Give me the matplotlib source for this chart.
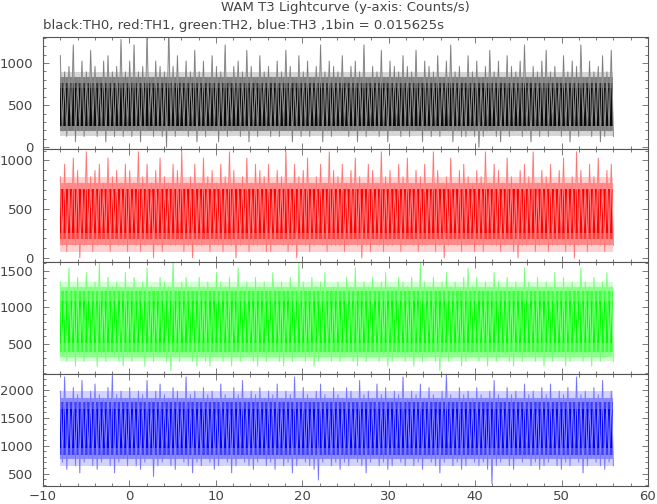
import numpy as np
import matplotlib.pyplot as plt
from matplotlib.ticker import MultipleLocator

bin_size = 0.015625   # s, so one count per bin = 64 counts/s
t_start, t_stop = -8.0, 56.0

# Counts per bin: local high / low in each 0.5 s slice
th0_hi = [17, 14, 15, 19, 13, 16, 14, 18, 15, 13, 16, 17, 14, 15, 20, 14,
          16, 19, 14, 15, 21, 13, 16, 15, 14, 22, 15, 17, 13, 16, 14, 18,
          14, 16, 13, 17, 15, 14, 19, 13, 15, 16, 14, 18, 15, 13, 17, 14,
          15, 13, 16, 14, 18, 15, 13, 17, 14, 16, 13, 15, 19, 14, 16, 15,
          14, 17, 13, 15, 16, 14, 19, 13, 15, 14, 18, 13, 16, 15, 14, 17,
          15, 14, 18, 13, 16, 15, 14, 17, 13, 16, 19, 14, 15, 13, 17, 14,
          16, 13, 15, 18, 14, 16, 13, 17, 15, 14, 16, 19, 13, 15, 14, 16,
          18, 14, 15, 13, 17, 14, 16, 15, 19, 13, 16, 14, 15, 17, 14, 18]
th0_lo = [3, 2, 4, 1, 3, 2, 3, 4, 2, 3, 1, 3, 2, 4, 2, 3,
          2, 3, 1, 3, 4, 2, 3, 2, 0, 3, 2, 4, 3, 2, 3, 1,
          3, 2, 4, 3, 1, 3, 2, 3, 4, 2, 3, 1, 3, 2, 4, 3,
          2, 3, 2, 4, 3, 1, 3, 2, 3, 2, 4, 3, 1, 3, 2, 3,
          3, 4, 2, 3, 1, 3, 2, 4, 3, 2, 3, 1, 3, 4, 2, 3,
          2, 3, 4, 1, 3, 2, 3, 2, 4, 3, 1, 3, 2, 2, 3, 2,
          0, 2, 3, 4, 2, 1, 3, 2, 3, 4, 2, 3, 1, 3, 2, 3,
          2, 4, 3, 2, 3, 1, 3, 2, 4, 3, 2, 3, 1, 2, 3, 2]

th1_hi = [13, 15, 12, 16, 14, 12, 17, 13, 14, 15, 12, 16, 13, 14, 12, 15,
          14, 12, 17, 13, 15, 12, 14, 16, 13, 12, 15, 14, 17, 12, 13, 15,
          12, 16, 13, 14, 12, 15, 13, 17, 14, 12, 13, 16, 12, 15, 14, 13,
          15, 12, 14, 13, 17, 12, 15, 13, 14, 16, 12, 13, 15, 12, 17, 14,
          13, 15, 12, 14, 16, 13, 12, 15, 14, 12, 17, 13, 14, 12, 15, 13,
          16, 12, 14, 13, 15, 12, 17, 14, 12, 13, 16, 12, 14, 15, 13, 12,
          14, 13, 17, 12, 15, 14, 12, 16, 13, 12, 14, 15, 13, 17, 12, 14,
          13, 15, 12, 14, 16, 12, 13, 17, 14, 12, 15, 13, 16, 12, 14, 15]
th1_lo = [2, 1, 3, 2, 0, 2, 3, 1, 2, 3, 2, 1, 3, 2, 2, 1,
          3, 2, 1, 2, 3, 0, 2, 1, 3, 2, 2, 3, 1, 2, 0, 2,
          2, 3, 1, 2, 2, 1, 3, 2, 0, 2, 3, 1, 2, 2, 3, 1,
          1, 2, 3, 2, 1, 2, 0, 3, 2, 1, 2, 3, 2, 1, 2, 2,
          2, 1, 2, 3, 2, 0, 2, 1, 3, 2, 1, 2, 2, 3, 1, 2,
          3, 2, 1, 2, 2, 3, 1, 2, 0, 2, 3, 2, 1, 2, 3, 1,
          2, 1, 3, 2, 2, 1, 2, 3, 1, 0, 2, 2, 3, 1, 2, 3,
          1, 2, 2, 3, 1, 2, 0, 2, 3, 1, 2, 3, 2, 1, 2, 2]

th2_hi = [21, 19, 24, 20, 22, 19, 23, 20, 21, 25, 19, 22, 20, 21, 19, 23,
          20, 22, 19, 21, 24, 20, 19, 22, 21, 20, 26, 19, 21, 22, 20, 19,
          22, 20, 21, 19, 23, 21, 20, 22, 19, 24, 20, 21, 19, 22, 20, 21,
          19, 23, 20, 21, 19, 22, 20, 25, 21, 19, 22, 20, 21, 23, 19, 20,
          21, 19, 22, 20, 24, 19, 21, 20, 22, 19, 21, 23, 20, 19, 22, 21,
          20, 22, 19, 25, 21, 20, 22, 19, 21, 23, 20, 21, 19, 22, 24, 20,
          22, 19, 21, 20, 23, 21, 19, 22, 20, 21, 19, 24, 21, 20, 22, 19,
          21, 20, 23, 19, 22, 20, 21, 19, 24, 21, 20, 22, 19, 21, 23, 20]
th2_lo = [5, 4, 6, 3, 5, 4, 6, 5, 3, 5, 4, 6, 5, 4, 3, 5,
          4, 6, 5, 3, 5, 4, 5, 6, 4, 2, 5, 4, 6, 5, 4, 3,
          5, 4, 3, 5, 6, 4, 5, 3, 5, 4, 6, 5, 4, 3, 5, 4,
          6, 5, 4, 3, 5, 4, 6, 5, 4, 5, 3, 4, 6, 5, 4, 5,
          4, 5, 6, 4, 3, 5, 4, 6, 5, 4, 5, 3, 4, 6, 5, 4,
          5, 3, 5, 4, 6, 5, 4, 2, 5, 4, 6, 5, 3, 4, 5, 6,
          4, 5, 3, 5, 4, 6, 5, 4, 3, 5, 4, 6, 5, 4, 5, 3,
          5, 4, 6, 5, 3, 4, 5, 6, 4, 5, 3, 5, 4, 6, 5, 4]

th3_hi = [31, 35, 29, 32, 30, 34, 29, 31, 33, 30, 29, 32, 36, 30, 31, 29,
          32, 29, 31, 30, 34, 29, 31, 33, 30, 29, 32, 31, 29, 35, 30, 31,
          29, 32, 30, 31, 29, 33, 30, 29, 32, 30, 34, 29, 31, 30, 32, 29,
          31, 30, 33, 29, 31, 30, 35, 29, 32, 30, 29, 31, 33, 30, 29, 32,
          30, 29, 32, 31, 29, 34, 30, 31, 29, 33, 30, 32, 29, 31, 30, 35,
          29, 31, 30, 33, 29, 32, 30, 29, 31, 36, 30, 29, 32, 30, 31, 29,
          32, 30, 29, 31, 34, 30, 29, 32, 30, 31, 29, 33, 30, 31, 29, 32,
          30, 33, 29, 31, 30, 32, 29, 35, 30, 31, 29, 32, 30, 34, 29, 31]
th3_lo = [11, 9, 12, 10, 8, 11, 12, 10, 9, 11, 13, 10, 8, 11, 12, 10,
          12, 10, 9, 11, 12, 7, 10, 11, 13, 10, 9, 12, 11, 10, 8, 11,
          10, 12, 11, 9, 10, 12, 11, 8, 10, 12, 11, 10, 9, 11, 12, 10,
          11, 9, 12, 10, 11, 8, 10, 12, 11, 10, 9, 6, 11, 12, 10, 11,
          9, 11, 10, 12, 11, 10, 8, 11, 12, 10, 11, 9, 10, 12, 11, 10,
          12, 10, 11, 9, 12, 11, 10, 8, 11, 12, 10, 11, 9, 10, 12, 11,
          10, 11, 9, 5, 10, 11, 12, 10, 9, 12, 11, 12, 10, 11, 9, 10,
          11, 12, 10, 9, 11, 10, 12, 11, 8, 10, 12, 11, 10, 9, 11, 10]

# where most bins pile up (counts per bin): faint, outer, middle, core
th0_bands = [(2, 14), (3, 13), (4, 12), (4, 11)]
th1_bands = [(1, 13), (2, 12), (3, 11), (4, 11)]
th2_bands = [(4, 21), (5, 20), (6, 19), (8, 17)]
th3_bands = [(10, 31), (12, 29), (13, 28), (15, 26)]

highs = [th0_hi, th1_hi, th2_hi, th3_hi]
lows = [th0_lo, th1_lo, th2_lo, th3_lo]
bands = [th0_bands, th1_bands, th2_bands, th3_bands]

main_colors = ['black', '#ff0000', '#00ff00', '#0000ff']
shades = [['#ababab', '#d6d6d6', '#808080', '#383838', '#0a0a0a'],
          ['#ffa0a0', '#ffd2d2', '#ff8a8a', '#ff3e3e', '#ff0000'],
          ['#a0ffa0', '#d2ffd2', '#8aff8a', '#3eff3e', '#00ff00'],
          ['#a0a0ff', '#d2d2ff', '#8a8aff', '#3e3eff', '#0000ff']]
ylims = [(-24, 1310), (-37, 1114), (87, 1624), (276, 2297)]

fig, axes = plt.subplots(4, 1, sharex=True, figsize=(6.57, 5.04), dpi=100)
fig.subplots_adjust(left=43/657, right=648/657, top=1-37/504,
                    bottom=1-486/504, hspace=0)

for ax, hi, lo, bnd, col, sh, yl in zip(axes, highs, lows, bands,
                                        main_colors, shades, ylims):
    n = len(hi)
    t = np.linspace(t_start, t_stop, 2 * n)
    counts = np.empty(2 * n)
    counts[0::2] = hi
    counts[1::2] = lo
    rate = counts / bin_size

    for (b_lo, b_hi), c in zip(bnd[:1], sh[1:2]):
        ax.fill_between([t_start, t_stop], b_lo / bin_size, b_hi / bin_size,
                        color=c, lw=0)
    ax.plot(t, rate, color=sh[0], lw=0.8)
    for (b_lo, b_hi), c in zip(bnd[1:], sh[2:]):
        ax.fill_between([t_start, t_stop], b_lo / bin_size, b_hi / bin_size,
                        color=c, lw=0)
    ax.plot(t, rate, color=col, lw=0.4, alpha=0.3)

    ax.set_ylim(*yl)
    ax.yaxis.set_major_locator(MultipleLocator(500))
    ax.yaxis.set_minor_locator(MultipleLocator(100))
    for sp in ax.spines.values():
        sp.set_color('#555555')
        sp.set_linewidth(0.8)
    ax.tick_params(which='both', direction='in', top=True, right=True,
                   color='#666666', width=0.6, labelcolor='#444444',
                   labelsize=9.5)
    ax.tick_params(which='major', length=4)
    ax.tick_params(which='minor', length=2)
    ax.tick_params(axis='y', pad=7)
    ax.tick_params(axis='x', pad=3)

axes[-1].set_xlim(-10, 60)
axes[-1].xaxis.set_major_locator(MultipleLocator(10))
axes[-1].xaxis.set_minor_locator(MultipleLocator(2))

fig.text(345/657, 1 - 8/504, 'WAM T3 Lightcurve (y-axis: Counts/s)',
         ha='center', va='center', fontsize=9.5, color='#444444')
fig.text(43/657, 1 - 25/504,
         'black:TH0, red:TH1, green:TH2, blue:TH3 ,1bin = 0.015625s',
         ha='left', va='center', fontsize=9.5, color='#444444')

fig.savefig('out.png', dpi=100)
